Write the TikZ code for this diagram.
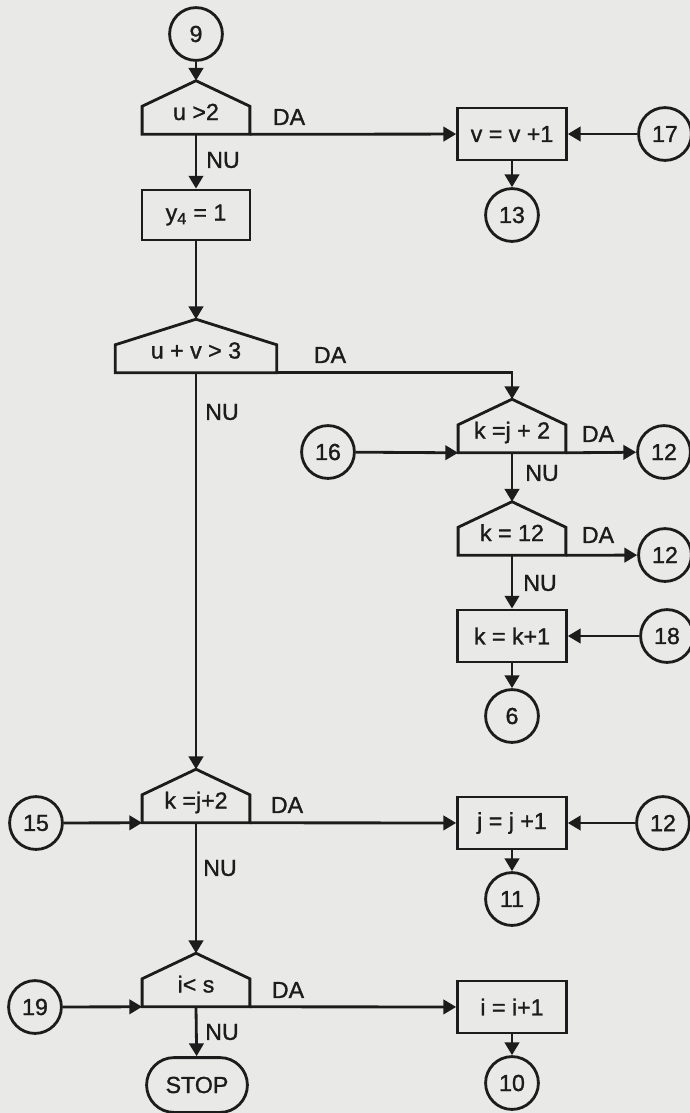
\documentclass[tikz,border=0pt]{standalone}
\usepackage{fontspec}
\setmainfont{Liberation Sans}[FakeBold=1.2]
\usetikzlibrary{arrows.meta,shapes.misc}
\tikzset{>={Triangle[length=3.2mm,width=3.6mm]}}
\definecolor{PaperGrey}{HTML}{E9E9E7}
\definecolor{PrintInk}{HTML}{1C1C1C}
\tikzset{
  FlowLine/.style={PrintInk, line width=2pt},
  Connector/.style={circle, draw=PrintInk, line width=2pt, minimum size=1.32cm, inner sep=0pt, text=PrintInk},
  ActionBox/.style={rectangle, draw=PrintInk, line width=2pt, minimum width=2.72cm, minimum height=1.3cm, inner sep=0pt, text=PrintInk},
  TestBox/.style={rectangle, minimum width=#1, minimum height=1.325cm, inner sep=0pt, text=PrintInk,
      text height=0.7cm, text depth=0.075cm,
      append after command={\pgfextra{
          \draw[FlowLine, line join=miter] (\tikzlastnode.south west) -- ([yshift=0.7cm]\tikzlastnode.south west)
            -- (\tikzlastnode.north) -- ([yshift=0.7cm]\tikzlastnode.south east)
            -- (\tikzlastnode.south east) -- cycle;}}
    },
  TestBox/.default=2.68cm,
  EndBox/.style={rounded rectangle, draw=PrintInk, line width=2pt, minimum width=2.52cm, minimum height=1.37cm, inner sep=0pt, text=PrintInk},
  Branch/.style={text=PrintInk, inner sep=0pt}
}

\begin{document}
\begin{tikzpicture}[x=0.025cm, y=-0.025cm, font=\fontsize{16.5pt}{19pt}\selectfont]
  \fill[PaperGrey] (0,0) rectangle (690,1113);
  \useasboundingbox (0,0) rectangle (690,1113);

  \node[Connector] (c9) at (196,34) {9};
  \node[TestBox] (uTest) at (196,107.5) {u >2};
  \node[ActionBox] (vInc) at (512,134) {v = v +1};
  \node[Connector] (c17) at (665,134) {17};
  \node[Connector] (c13) at (512,215) {13};
  \node[ActionBox, minimum width=2.7cm, minimum height=1.25cm] (ySet) at (196,215) {y\textsubscript{4} = 1};

  \node[TestBox=4.02cm] (uvTest) at (196,346) {u + v > 3};
  \node[TestBox] (kTestA) at (512,426) {k =j + 2};
  \node[Connector] (c16) at (328,452) {16};
  \node[Connector] (c12a) at (664,452) {12};
  \node[TestBox] (kTwelve) at (512,528.5) {k = 12};
  \node[Connector] (c12b) at (665,555) {12};
  \node[ActionBox] (kInc) at (512,636) {k = k+1};
  \node[Connector] (c18) at (667,636) {18};
  \node[Connector] (c6) at (512,716) {6};

  \node[TestBox] (kTestB) at (196,796) {k =j+2};
  \node[Connector] (c15) at (36,823) {15};
  \node[ActionBox] (jInc) at (512,823) {j = j +1};
  \node[Connector] (c12c) at (663,823) {12};
  \node[Connector] (c11) at (512,899) {11};

  \node[TestBox] (sTest) at (196,980) {i< s};
  \node[Connector] (c19) at (35,1007) {19};
  \node[ActionBox] (iInc) at (512,1007) {i = i+1};
  \node[Connector] (c10) at (512,1083) {10};
  \node[EndBox] (stop) at (197,1085) {STOP};

  \node[Branch] (da1) at (289,117) {DA};
  \node[Branch] (nu1) at (223,160) {NU};
  \node[Branch] (da2) at (330,355) {DA};
  \node[Branch] (nu2) at (222,412) {NU};
  \node[Branch] (da3) at (598,434) {DA};
  \node[Branch] (nu3) at (542,473) {NU};
  \node[Branch] (da4) at (598,535) {DA};
  \node[Branch] (nu4) at (540,583) {NU};
  \node[Branch] (da5) at (287,805) {DA};
  \node[Branch] (nu5) at (220,868) {NU};
  \node[Branch] (da6) at (288,990) {DA};
  \node[Branch] (nu6) at (222,1032) {NU};

  \draw[FlowLine, ->] (c9) -- (uTest);
  \draw[FlowLine, ->] (uTest.south east) -- (vInc);
  \draw[FlowLine, ->] (c17) -- (vInc);
  \draw[FlowLine, ->] (vInc) -- (c13);
  \draw[FlowLine, ->] (uTest.south) -- (ySet);
  \draw[FlowLine, ->] (ySet) -- (uvTest);
  \draw[FlowLine, ->] (uvTest.south east) -| (kTestA);
  \draw[FlowLine, ->] (uvTest.south) -- (kTestB);

  \draw[FlowLine, ->] (c16) -- (kTestA.south west);
  \draw[FlowLine, ->] (kTestA.south east) -- (c12a);
  \draw[FlowLine, ->] (kTestA.south) -- (kTwelve);
  \draw[FlowLine, ->] (kTwelve.south east) -- (c12b);
  \draw[FlowLine, ->] (kTwelve.south) -- (kInc);
  \draw[FlowLine, ->] (c18) -- (kInc);
  \draw[FlowLine, ->] (kInc) -- (c6);

  \draw[FlowLine, ->] (c15) -- (kTestB.south west);
  \draw[FlowLine, ->] (kTestB.south east) -- (jInc);
  \draw[FlowLine, ->] (c12c) -- (jInc);
  \draw[FlowLine, ->] (jInc) -- (c11);
  \draw[FlowLine, ->] (kTestB.south) -- (sTest);

  \draw[FlowLine, ->] (c19) -- (sTest.south west);
  \draw[FlowLine, ->] (sTest.south east) -- (iInc);
  \draw[FlowLine, ->] (iInc) -- (c10);
  \draw[FlowLine, ->] (sTest.south) -- (stop);
\end{tikzpicture}
\end{document}
